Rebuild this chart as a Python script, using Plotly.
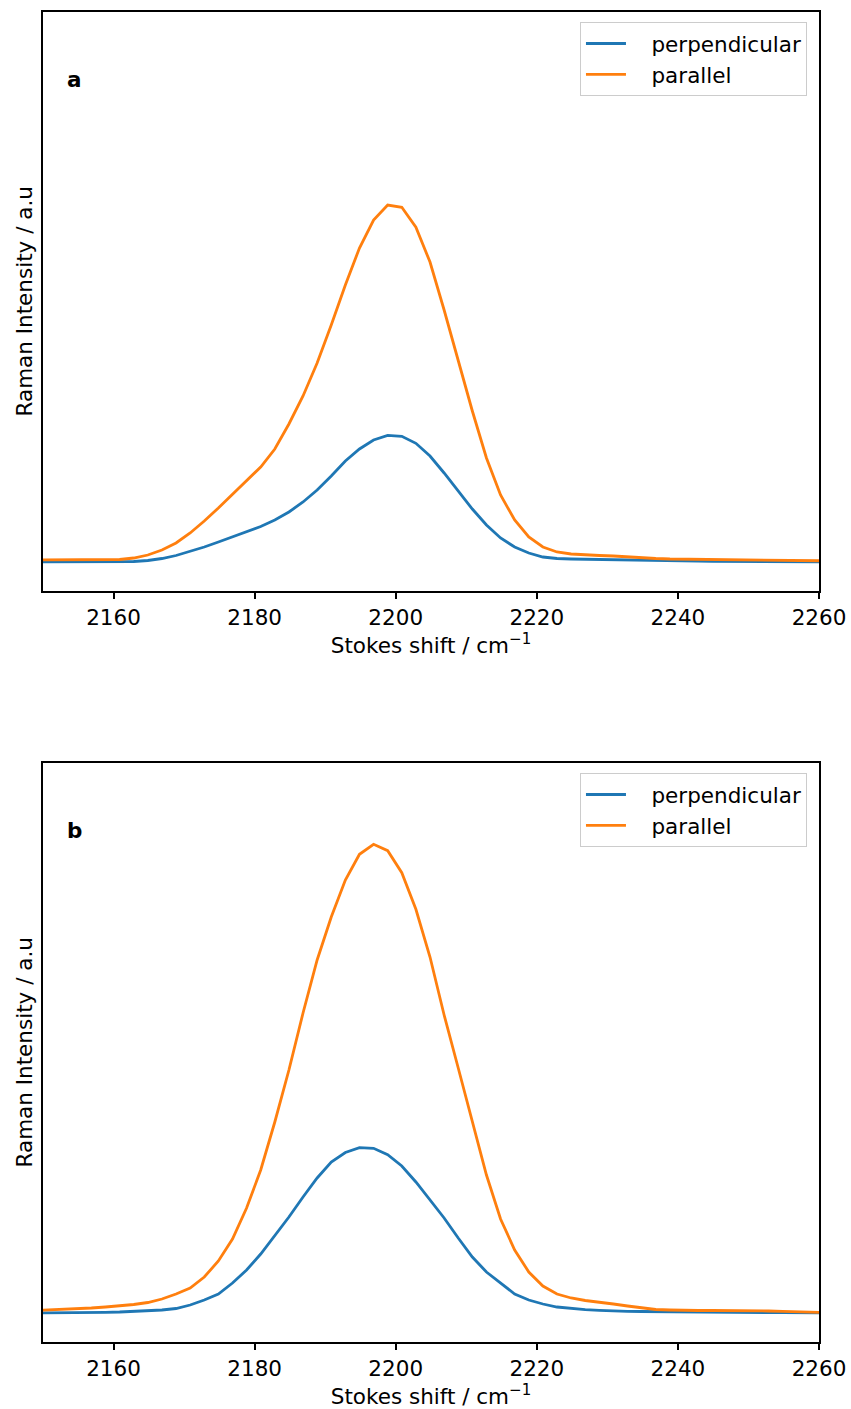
import plotly.graph_objects as go

# Stokes shift sample positions (cm^-1)
shift = [2148.86 + 2 * k for k in range(58)]

# Panel a (top), arbitrary intensity units
a_perp_px = [562, 562, 562, 562, 562, 562, 562, 561.5, 560.5, 558.5,
             555.5, 551.5, 547, 542, 537, 532, 526.5, 520, 512, 502,
             490, 476, 461, 449, 440, 435.3, 436.3, 443.3, 456, 473,
             491, 509, 525, 538, 547, 553, 557, 558.5, 559, 559.3,
             559.5, 560, 560.3, 560.5, 560.8, 561, 561.1, 561.2, 561.3, 561.4,
             561.5, 561.6, 561.7, 561.8, 561.9, 562, 562, 562]
a_par_px = [560, 560, 559.5, 559.5, 559.5, 559.5, 559.5, 558, 555, 550,
            543, 533, 521, 508, 494.5, 481, 467, 449, 424, 396,
            363, 325, 285, 248, 220, 205, 207.3, 227.3, 262, 310,
            361, 411, 458, 495, 520, 537, 547, 552, 554, 555,
            555.5, 556, 557, 558, 558.5, 559, 559.2, 559.4, 559.5, 559.7,
            559.9, 560.1, 560.3, 560.5, 560.7, 560.9, 561, 561]

# Panel b (bottom)
b_perp_px = [1313, 1313, 1313, 1312.8, 1312.5, 1312.3, 1312, 1311.5, 1311, 1310,
             1308.5, 1305, 1300, 1294, 1283, 1270, 1254, 1236, 1217, 1197,
             1178, 1162, 1152.5, 1147.7, 1148.3, 1154.7, 1166, 1182, 1200, 1218,
             1238, 1257, 1272, 1283, 1294, 1300, 1304, 1307, 1308.7, 1309.7,
             1310.3, 1311, 1311.3, 1311.5, 1311.7, 1311.9, 1312, 1312.1, 1312.2, 1312.3,
             1312.4, 1312.5, 1312.6, 1312.7, 1312.8, 1312.9, 1313, 1313]
b_par_px = [1310.5, 1310, 1309.5, 1309, 1308, 1307, 1306, 1304.5, 1302.5, 1299,
            1294, 1288, 1277, 1261, 1239, 1208, 1170, 1122, 1070, 1013,
            960, 917, 880, 854.3, 844.3, 850.7, 872.7, 909.3, 957, 1015,
            1068, 1122, 1175, 1219, 1250, 1272, 1286, 1294, 1298, 1300.5,
            1302, 1304, 1306, 1308, 1309.5, 1310, 1310.5, 1310.5, 1310.5, 1310.5,
            1310.6, 1310.8, 1311, 1311.3, 1311.6, 1312, 1312.5, 1313]

a_perp = [(591 - v) / 579 * 100 for v in a_perp_px]
a_par = [(591 - v) / 579 * 100 for v in a_par_px]
b_perp = [(1342 - v) / 579 * 100 for v in b_perp_px]
b_par = [(1342 - v) / 579 * 100 for v in b_par_px]

BLUE = "#1f77b4"
ORANGE = "#ff7f0e"
FONT = "DejaVu Sans"
FS = 21.5
LW = 2.8
PAD = "\u00a0\u00a0\u00a0"

fig = go.Figure()
fig.add_trace(go.Scatter(x=shift, y=a_perp, mode="lines", name=PAD + "perpendicular",
                         line=dict(color=BLUE, width=LW), xaxis="x", yaxis="y",
                         legend="legend"))
fig.add_trace(go.Scatter(x=shift, y=a_par, mode="lines", name=PAD + "parallel",
                         line=dict(color=ORANGE, width=LW), xaxis="x", yaxis="y",
                         legend="legend"))
fig.add_trace(go.Scatter(x=shift, y=b_perp, mode="lines", name=PAD + "perpendicular",
                         line=dict(color=BLUE, width=LW), xaxis="x2", yaxis="y2",
                         legend="legend2"))
fig.add_trace(go.Scatter(x=shift, y=b_par, mode="lines", name=PAD + "parallel",
                         line=dict(color=ORANGE, width=LW), xaxis="x2", yaxis="y2",
                         legend="legend2"))

xcommon = dict(range=[2150, 2260], tickvals=[2160, 2180, 2200, 2220, 2240, 2260],
               showline=True, linecolor="black", linewidth=1.6, mirror=True,
               ticks="outside", ticklen=6, tickwidth=1.6, tickcolor="black",
               showgrid=False, zeroline=False, automargin=False,
               tickfont=dict(family=FONT, size=FS, color="black"),
               title=dict(text="Stokes shift / cm<sup>\u22121</sup>",
                          font=dict(family=FONT, size=FS, color="black"), standoff=3))
ycommon = dict(range=[0, 100], showline=True, linecolor="black", linewidth=1.6,
               mirror=True, ticks="", showticklabels=False, showgrid=False,
               zeroline=False, automargin=False)

top_dom = [(1342 - 591) / 1330, 1.0]
bot_dom = [0.0, 579 / 1330]

legcommon = dict(xanchor="right", yanchor="top", bgcolor="rgba(255,255,255,0.8)",
                 bordercolor="#cccccc", borderwidth=1,
                 font=dict(family=FONT, size=FS, color="black"),
                 tracegroupgap=0, itemwidth=40)

fig.update_layout(
    width=851, height=1409,
    margin=dict(l=43, r=32, t=12, b=67, autoexpand=False),
    paper_bgcolor="white", plot_bgcolor="white",
    xaxis=dict(domain=[0, 1], anchor="y", **xcommon),
    yaxis=dict(domain=top_dom, anchor="x", **ycommon),
    xaxis2=dict(domain=[0, 1], anchor="y2", **xcommon),
    yaxis2=dict(domain=bot_dom, anchor="x2", **ycommon),
    legend=dict(x=0.9845, y=top_dom[1] - 10 / 1330, **legcommon),
    legend2=dict(x=0.9845, y=bot_dom[1] - 10 / 1330, **legcommon),
    annotations=[
        dict(text="<b>a</b>", xref="x domain", yref="y domain", x=0.041, y=0.883,
             xanchor="center", yanchor="middle",
             showarrow=False, font=dict(family=FONT, size=FS, color="black")),
        dict(text="<b>b</b>", xref="x2 domain", yref="y2 domain", x=0.041, y=0.883,
             xanchor="center", yanchor="middle",
             showarrow=False, font=dict(family=FONT, size=FS, color="black")),
        dict(text="Raman Intensity / a.u", xref="paper", yref="y domain", x=0,
             xshift=-19, y=0.5, textangle=-90, showarrow=False,
             xanchor="center", yanchor="middle",
             font=dict(family=FONT, size=FS, color="black")),
        dict(text="Raman Intensity / a.u", xref="paper", yref="y2 domain", x=0,
             xshift=-19, y=0.5, textangle=-90, showarrow=False,
             xanchor="center", yanchor="middle",
             font=dict(family=FONT, size=FS, color="black")),
    ],
)

fig.write_html("out.html")
